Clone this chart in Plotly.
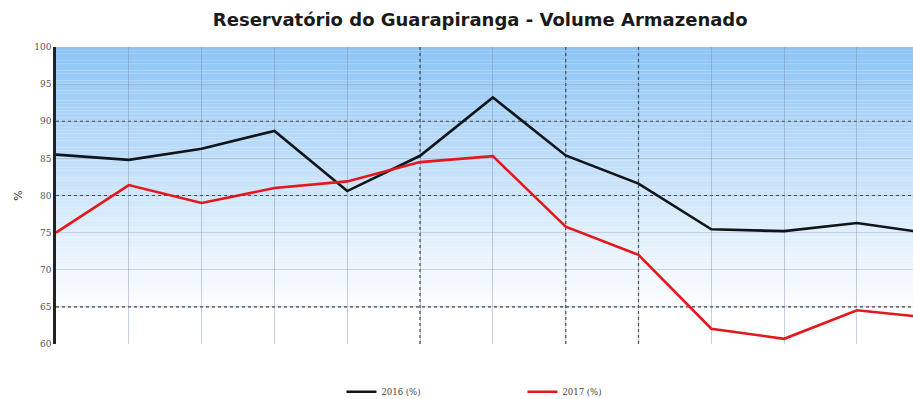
import plotly.graph_objects as go

# ---- data ----
months = list(range(13))
vol_2016 = [85.5, 84.8, 86.3, 88.7, 80.6, 85.35, 93.2, 85.4, 81.6, 75.45, 75.2, 76.3, 74.9]
vol_2017 = [75.0, 81.4, 79.0, 81.0, 81.9, 84.5, 85.3, 75.8, 72.0, 62.05, 60.7, 64.55, 63.55]
series_names = ["2016 (%)", "2017 (%)"]
y_ticks = [60, 65, 70, 75, 80, 85, 90, 95, 100]
dashed_y = [65, 80, 90]
dashed_x = [5, 7, 8]

fig = go.Figure()
fig.add_trace(go.Scatter(x=months, y=vol_2016, mode="lines", name=series_names[0],
                         line=dict(color="#111418", width=2.6)))
fig.add_trace(go.Scatter(x=months, y=vol_2017, mode="lines", name=series_names[1],
                         line=dict(color="#e3171c", width=2.6)))

shapes = []
# vertical gradient background: light blue at top fading to white
top_rgb = (140, 196, 246)
n = 80
y0, y1 = 64.0, 100.0
for i in range(n):
    a = y0 + (y1 - y0) * i / n
    b = y0 + (y1 - y0) * (i + 1) / n
    t = (i + 0.5) / n
    t = t ** 1.1
    r = int(255 + (top_rgb[0] - 255) * t)
    g = int(255 + (top_rgb[1] - 255) * t)
    bl = int(255 + (top_rgb[2] - 255) * t)
    shapes.append(dict(type="rect", xref="paper", yref="y", x0=0, x1=1, y0=a, y1=b,
                       fillcolor=f"rgb({r},{g},{bl})", line=dict(width=0), layer="below"))
for yv in dashed_y:
    shapes.append(dict(type="line", xref="paper", yref="y", x0=0, x1=1, y0=yv, y1=yv,
                       line=dict(color="#2a3340", width=1.2, dash="dot"), layer="below"))
for xv in dashed_x:
    shapes.append(dict(type="line", xref="x", yref="paper", x0=xv, x1=xv, y0=0, y1=1,
                       line=dict(color="#2a3340", width=1.2, dash="dot"), layer="below"))

fig.update_layout(
    width=913, height=399,
    margin=dict(l=56, r=0, t=47, b=55),
    paper_bgcolor="white",
    plot_bgcolor="white",
    shapes=shapes,
    title=dict(text="<b>Reservatório do Guarapiranga - Volume Armazenado</b>",
               x=0.526, xanchor="center", y=0.95, yanchor="middle",
               font=dict(family="DejaVu Sans", size=18, color="#1a1a1a")),
    xaxis=dict(range=[0, 11.77], tickmode="array", tickvals=months, showticklabels=False,
               showgrid=True, gridcolor="rgba(120,135,160,0.4)", gridwidth=1,
               zeroline=False, showline=False, ticks=""),
    yaxis=dict(range=[60, 100], tickmode="array", tickvals=y_ticks,
               showgrid=True, gridcolor="rgba(120,135,160,0.3)", gridwidth=1,
               zeroline=False, showline=True, linecolor="#222", linewidth=2.5,
               ticks="", ticklen=0,
               tickfont=dict(family="DejaVu Serif", size=9, color="#555"),
               title=dict(text="%", font=dict(family="DejaVu Sans", size=11, color="#333"),
                          standoff=10)),
    legend=dict(orientation="h", x=0.374, xanchor="left", xref="container",
                y=0.018, yanchor="middle", yref="container",
                font=dict(family="DejaVu Serif", size=8.5, color="#444"),
                entrywidth=136, entrywidthmode="pixels", itemwidth=30,
                bgcolor="rgba(0,0,0,0)"),
    showlegend=True,
)

fig.write_html("out.html")
